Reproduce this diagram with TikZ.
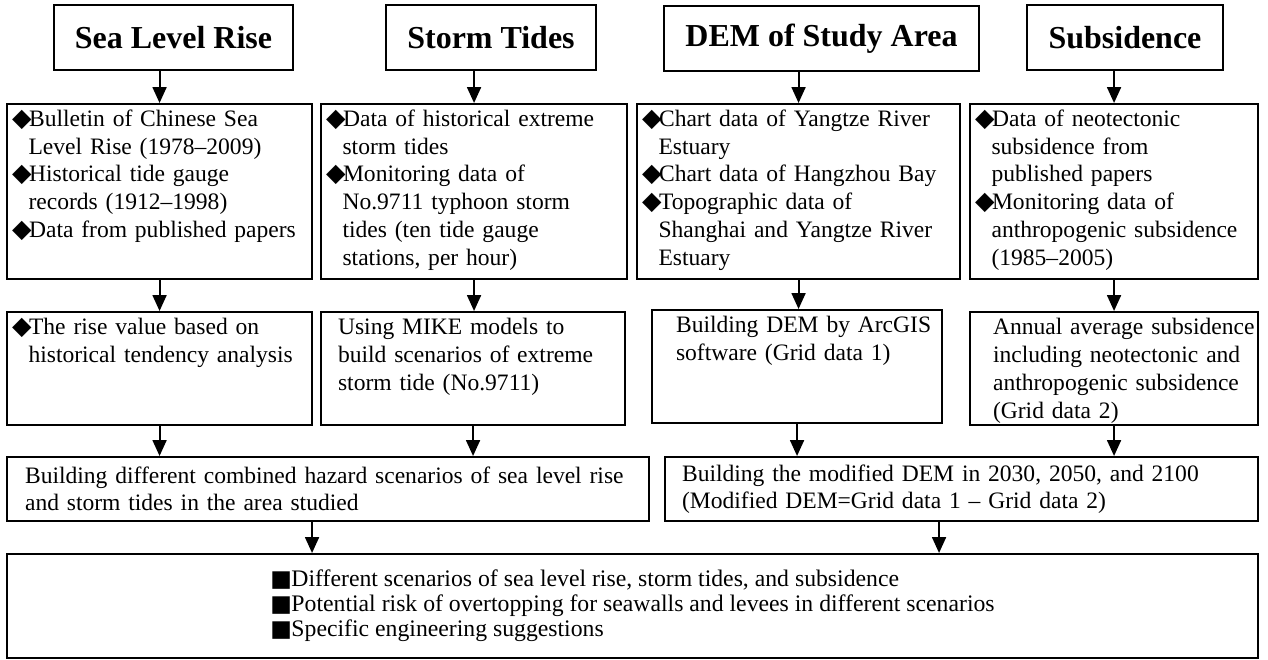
\documentclass[tikz,border=0pt]{standalone}
\usepackage{fontspec}
\setmainfont{Liberation Serif}
\newfontfamily\symfont{DejaVu Sans}
\usetikzlibrary{arrows.meta,positioning}

\newcommand{\dia}{\makebox[0.34cm][l]{\symfont\fontsize{14.4}{14.4}\selectfont ◆}}
\newcommand{\sq}{\makebox[0.42cm][l]{\symfont\fontsize{13}{13}\selectfont ■}}
\newcommand{\ind}{\hspace*{0.33cm}}

\begin{document}
\begin{tikzpicture}[
    >={Triangle[length=0.32cm,width=0.28cm]},
    head/.style={draw, line width=1.2pt, minimum height=1.3cm, inner sep=0pt,
      font=\fontsize{18.2}{21}\selectfont\bfseries},
    box/.style={draw, line width=1.2pt, anchor=north west, align=left,
      inner ysep=0pt, inner xsep=0.12cm, font=\fontsize{13.4}{15.9}\selectfont},
    datbox/.style={box, text height=0.44cm, text depth=3.06cm},
    mid/.style={box, text height=0.45cm, text depth=1.81cm},
    lskip/.style={execute at begin node={\leftskip=#1}},
    flow/.style={->, line width=1.1pt}]

    \useasboundingbox (0,0) rectangle (25.36,-13.18);

    % hazards
    \draw (3.47,-0.75) node [head, minimum width=4.78cm] (slr) {Sea Level Rise};
    \draw (9.82,-0.75) node [head, minimum width=4.2cm] (st) {Storm Tides};
    \draw (16.43,-0.77) node [head, minimum width=6.3cm] (dem) {DEM of Study Area};
    \draw (22.5,-0.75) node [head, minimum width=3.92cm] (sub) {Subsidence};

    % data sources
    \draw (0.12,-2.06) node [datbox, text width=5.9cm, inner xsep=0.1cm] (slrdata)
        {\dia Bulletin of Chinese Sea\\ \ind Level Rise (1978--2009)\\
         \dia Historical tide gauge\\ \ind records (1912--1998)\\
         \dia Data from published papers};
    \draw (6.4,-2.06) node [datbox, text width=5.92cm, inner xsep=0.1cm] (stdata)
        {\dia Data of historical extreme\\ \ind storm tides\\
         \dia Monitoring data of\\ \ind No.9711 typhoon storm\\
         \ind tides (ten tide gauge\\ \ind stations, per hour)};
    \draw (12.72,-2.06) node [datbox, text width=6.26cm, inner xsep=0.1cm] (demdata)
        {\dia Chart data of Yangtze River\\ \ind Estuary\\
         \dia Chart data of Hangzhou Bay\\
         \dia Topographic data of\\ \ind Shanghai and Yangtze River\\
         \ind Estuary};
    \draw (19.38,-2.06) node [datbox, text width=5.56cm, inner xsep=0.1cm] (subdata)
        {\dia Data of neotectonic\\ \ind subsidence from\\
         \ind published papers\\
         \dia Monitoring data of\\ \ind anthropogenic subsidence\\
         \ind (1985--2005)};

    % processing
    \draw (0.12,-6.22) node [mid, text width=5.9cm, inner xsep=0.1cm] (slrval)
        {\dia The rise value based on\\ \ind historical tendency analysis};
    \draw (6.4,-6.22) node [mid, text width=5.84cm, lskip=0.22cm] (stmodel)
        {Using MIKE models to\\ build scenarios of extreme\\ storm tide (No.9711)};
    \draw (13.02,-6.18) node [mid, text width=5.56cm, lskip=0.36cm] (demgrid)
        {Building DEM by ArcGIS\\ software (Grid data 1)};
    \draw (19.38,-6.22) node [mid, inner xsep=0pt, text width=5.76cm, lskip=0.46cm] (subgrid)
        {Annual average subsidence\\ including neotectonic and\\
         anthropogenic subsidence\\ (Grid data 2)};

    % combined
    \draw (0.12,-9.12) node [box, inner xsep=0.36cm, text width=12.12cm,
        minimum height=1.28cm, font=\fontsize{13.4}{15.3}\selectfont] (hazard)
        {Building different combined hazard scenarios of sea level rise\\
         and storm tides in the area studied};
    \draw (13.28,-9.12) node [box, inner xsep=0.34cm, text width=11.18cm,
        minimum height=1.28cm, font=\fontsize{13.4}{15.3}\selectfont] (moddem)
        {Building the modified DEM in 2030, 2050, and 2100\\
         (Modified DEM=Grid data 1 -- Grid data 2)};

    % results
    \draw (0.12,-11.06) node [box, minimum width=25.02cm, minimum height=2.08cm,
        font=\fontsize{13.5}{14.3}\selectfont] (result)
        {\sq Different scenarios of sea level rise, storm tides, and subsidence\\
         \sq Potential risk of overtopping for seawalls and levees in different scenarios\\
         \sq Specific engineering suggestions};

    \path[flow]
    (slr.south -| slrdata.north) edge (slrdata.north)
    (st.south -| stdata.north) edge (stdata.north)
    (dem.south -| demdata.north) edge (demdata.north)
    (sub.south -| subdata.north) edge (subdata.north)
    (slrdata.south) edge (slrdata.south |- slrval.north)
    (stdata.south) edge (stdata.south |- stmodel.north)
    (demdata.south) edge (demdata.south |- demgrid.north)
    (subdata.south) edge (subdata.south |- subgrid.north)
    (slrval.south) edge (slrval.south |- hazard.north)
    (stmodel.south) edge (stmodel.south |- hazard.north)
    (demgrid.south) edge (demgrid.south |- moddem.north)
    (subgrid.south) edge (subgrid.south |- moddem.north)
    ([xshift=-0.32cm]hazard.south) edge ([xshift=-0.32cm]hazard.south |- result.north)
    ([xshift=-0.45cm]moddem.south) edge ([xshift=-0.45cm]moddem.south |- result.north);
\end{tikzpicture}
\end{document}
